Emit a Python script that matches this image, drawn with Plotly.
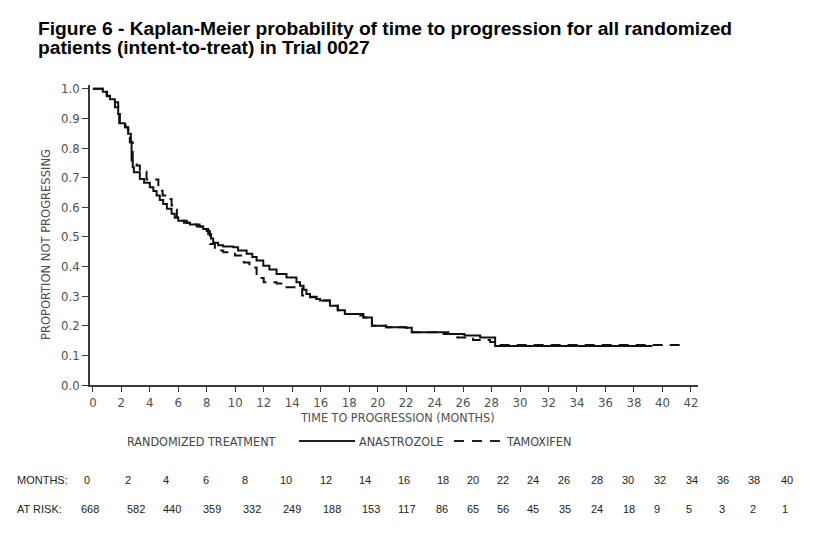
import plotly.graph_objects as go

# ---------------- data ----------------
ana_t = [0, 0.7, 0.96, 1.2, 1.55, 1.78, 1.85, 2.25, 2.48, 2.67, 2.72, 2.8, 2.88, 3.3, 3.6, 4.0,
         4.25, 4.48, 4.7, 4.94, 5.2, 5.53, 5.75, 6.0, 6.4, 6.82, 7.3, 7.75, 8.1, 8.3, 8.45, 8.8,
         9.16, 9.86, 10.2, 10.8, 11.2, 11.5, 11.97, 12.4, 12.9, 13.6, 14.3, 14.55, 14.8, 15.0,
         15.25, 15.7, 15.95, 16.65, 17.2, 17.7, 19.0, 19.6, 20.6, 22.0, 22.4, 24.97, 26.1, 27.2,
         28.25, 39.3]
ana_p = [1.0, 0.99, 0.977, 0.965, 0.955, 0.915, 0.884, 0.87, 0.848, 0.82, 0.758, 0.735, 0.718,
         0.696, 0.683, 0.668, 0.655, 0.64, 0.625, 0.611, 0.595, 0.578, 0.565, 0.555, 0.548, 0.542,
         0.535, 0.527, 0.51, 0.495, 0.48, 0.472, 0.468, 0.465, 0.454, 0.443, 0.432, 0.42, 0.403,
         0.39, 0.375, 0.363, 0.347, 0.335, 0.322, 0.307, 0.298, 0.29, 0.285, 0.268, 0.252, 0.24,
         0.228, 0.2, 0.195, 0.193, 0.178, 0.172, 0.167, 0.16, 0.132, 0.132]

tam_t = [0, 0.7, 1.0, 1.2, 1.55, 1.8, 1.9, 2.3, 2.48, 2.6, 2.8, 3.07, 3.3, 3.77, 4.6, 4.9, 5.18,
         5.53, 5.9, 6.23, 6.6, 7.0, 7.5, 7.9, 8.22, 8.57, 9.16, 9.98, 10.6, 11.0, 11.5, 12.0, 12.9,
         13.6, 14.7, 15.25, 15.7, 15.95, 16.65, 17.2, 17.7, 18.6, 19.0, 19.6, 20.6, 22.0, 22.4,
         24.5, 25.6, 26.7, 27.9, 28.25, 41.5]
tam_p = [1.0, 0.99, 0.975, 0.96, 0.938, 0.915, 0.884, 0.87, 0.86, 0.82, 0.745, 0.741, 0.72,
         0.694, 0.656, 0.64, 0.628, 0.606, 0.567, 0.555, 0.548, 0.542, 0.535, 0.52, 0.476, 0.454,
         0.448, 0.437, 0.414, 0.397, 0.361, 0.347, 0.343, 0.33, 0.302, 0.296, 0.29, 0.285, 0.268,
         0.252, 0.24, 0.235, 0.228, 0.2, 0.195, 0.193, 0.178, 0.172, 0.16, 0.152, 0.145, 0.135,
         0.135]

x_ticks = list(range(0, 43, 2))
y_ticks = [0.0, 0.1, 0.2, 0.3, 0.4, 0.5, 0.6, 0.7, 0.8, 0.9, 1.0]

risk_months = [0, 2, 4, 6, 8, 10, 12, 14, 16, 18, 20, 22, 24, 26, 28, 30, 32, 34, 36, 38, 40]
at_risk = [668, 582, 440, 359, 332, 249, 188, 153, 117, 86, 65, 56, 45, 35, 24, 18, 9, 5, 3, 2, 1]

title_lines = ["Figure 6 - Kaplan-Meier probability of time to progression for all randomized",
               "patients (intent-to-treat) in Trial 0027"]
x_title = "TIME TO PROGRESSION (MONTHS)"
y_title = "PROPORTION NOT PROGRESSING"

# ---------------- layout helpers (pixel positions) ----------------
W, H = 813, 533
ML, MR, MT, MB = 90, 115, 85, 148
PW, PH = W - ML - MR, H - MT - MB

def px(x):
    return (x - ML) / PW

def py(y):
    return (H - MB - y) / PH

title_mid_px = [28.0, 47.5]
months_px = [87, 128, 166, 206, 245, 286, 326, 365, 404, 443, 473, 503, 533, 564, 597, 628,
             660, 692, 723, 754, 787]
risk_px = [90, 136, 172, 212, 252, 292, 332, 371, 407, 442, 473, 503, 533, 565, 597, 629,
           657, 689, 722, 753, 785]

cond = "DejaVu Sans Condensed, Liberation Sans Narrow, sans-serif"
plain = "Liberation Sans, Arial, sans-serif"
axis_col = "#3a3a3a"
lab_col = "#505050"

fig = go.Figure()
fig.add_trace(go.Scatter(x=ana_t, y=ana_p, mode="lines", line_shape="hv",
                         line=dict(color="#111111", width=2), name="ANASTROZOLE",
                         showlegend=False))
fig.add_trace(go.Scatter(x=tam_t, y=tam_p, mode="lines", line_shape="hv",
                         line=dict(color="#111111", width=2, dash="10px,7px"),
                         name="TAMOXIFEN", showlegend=False))

fig.update_xaxes(range=[-0.2, 42.5], tickvals=x_ticks, ticktext=[str(v) for v in x_ticks],
                 showgrid=False, zeroline=False, showline=True, linecolor=axis_col, linewidth=1.5,
                 ticks="outside", ticklen=5, tickcolor=axis_col, tickwidth=1.2,
                 tickfont=dict(family=cond, size=13, color=lab_col))
fig.update_yaxes(range=[0, 1.013], tickvals=y_ticks, ticktext=[f"{v:.1f}" for v in y_ticks],
                 showgrid=False, zeroline=False, showline=True, linecolor=axis_col, linewidth=1.5,
                 ticks="outside", ticklen=6, tickcolor=axis_col, tickwidth=1.2,
                 tickfont=dict(family=cond, size=13, color=lab_col))

annotations = []
for line, ym in zip(title_lines, title_mid_px):
    annotations.append(dict(text="<b>" + line + "</b>", xref="paper", yref="paper",
                            x=px(36), y=py(ym), xanchor="left", yanchor="middle",
                            showarrow=False,
                            font=dict(family=plain, size=19.2, color="#000000")))
annotations += [
    dict(text=x_title, xref="paper", yref="paper", x=px(397), y=py(417),
         xanchor="center", yanchor="middle", showarrow=False,
         font=dict(family=cond, size=12.5, color=lab_col)),
    dict(text=y_title, xref="paper", yref="paper", x=px(45), y=py(245), textangle=-90,
         xanchor="center", yanchor="middle", showarrow=False,
         font=dict(family=cond, size=12.8, color=lab_col)),
    dict(text="RANDOMIZED TREATMENT", xref="paper", yref="paper", x=px(278), y=py(441),
         xanchor="right", yanchor="middle", showarrow=False,
         font=dict(family=cond, size=12.5, color="#444444")),
    dict(text="ANASTROZOLE", xref="paper", yref="paper", x=px(357), y=py(441),
         xanchor="left", yanchor="middle", showarrow=False,
         font=dict(family=cond, size=12.5, color="#444444")),
    dict(text="TAMOXIFEN", xref="paper", yref="paper", x=px(504), y=py(441),
         xanchor="left", yanchor="middle", showarrow=False,
         font=dict(family=cond, size=12.5, color="#444444")),
    dict(text="MONTHS:", xref="paper", yref="paper", x=px(15), y=py(480),
         xanchor="left", yanchor="middle", showarrow=False,
         font=dict(family=plain, size=11, color="#222222")),
    dict(text="AT RISK:", xref="paper", yref="paper", x=px(15), y=py(509),
         xanchor="left", yanchor="middle", showarrow=False,
         font=dict(family=plain, size=11, color="#222222")),
]
for m, xp in zip(risk_months, months_px):
    annotations.append(dict(text=str(m), xref="paper", yref="paper", x=px(xp), y=py(480),
                            xanchor="center", yanchor="middle", showarrow=False,
                            font=dict(family=plain, size=11, color="#222222")))
for r, xp in zip(at_risk, risk_px):
    annotations.append(dict(text=str(r), xref="paper", yref="paper", x=px(xp), y=py(509),
                            xanchor="center", yanchor="middle", showarrow=False,
                            font=dict(family=plain, size=11, color="#222222")))

shapes = [
    dict(type="line", xref="paper", yref="paper", x0=px(299), x1=px(355), y0=py(441), y1=py(441),
         line=dict(color="#222222", width=2)),
    dict(type="line", xref="paper", yref="paper", x0=px(454), x1=px(503), y0=py(441), y1=py(441),
         line=dict(color="#222222", width=2, dash="10px,8px")),
]

fig.update_layout(width=W, height=H, margin=dict(l=ML, r=MR, t=MT, b=MB),
                  paper_bgcolor="white", plot_bgcolor="white",
                  annotations=annotations, shapes=shapes, showlegend=False)

fig.write_html("out.html", config={"displayModeBar": False},
               post_script="document.body.style.margin='0px';")
